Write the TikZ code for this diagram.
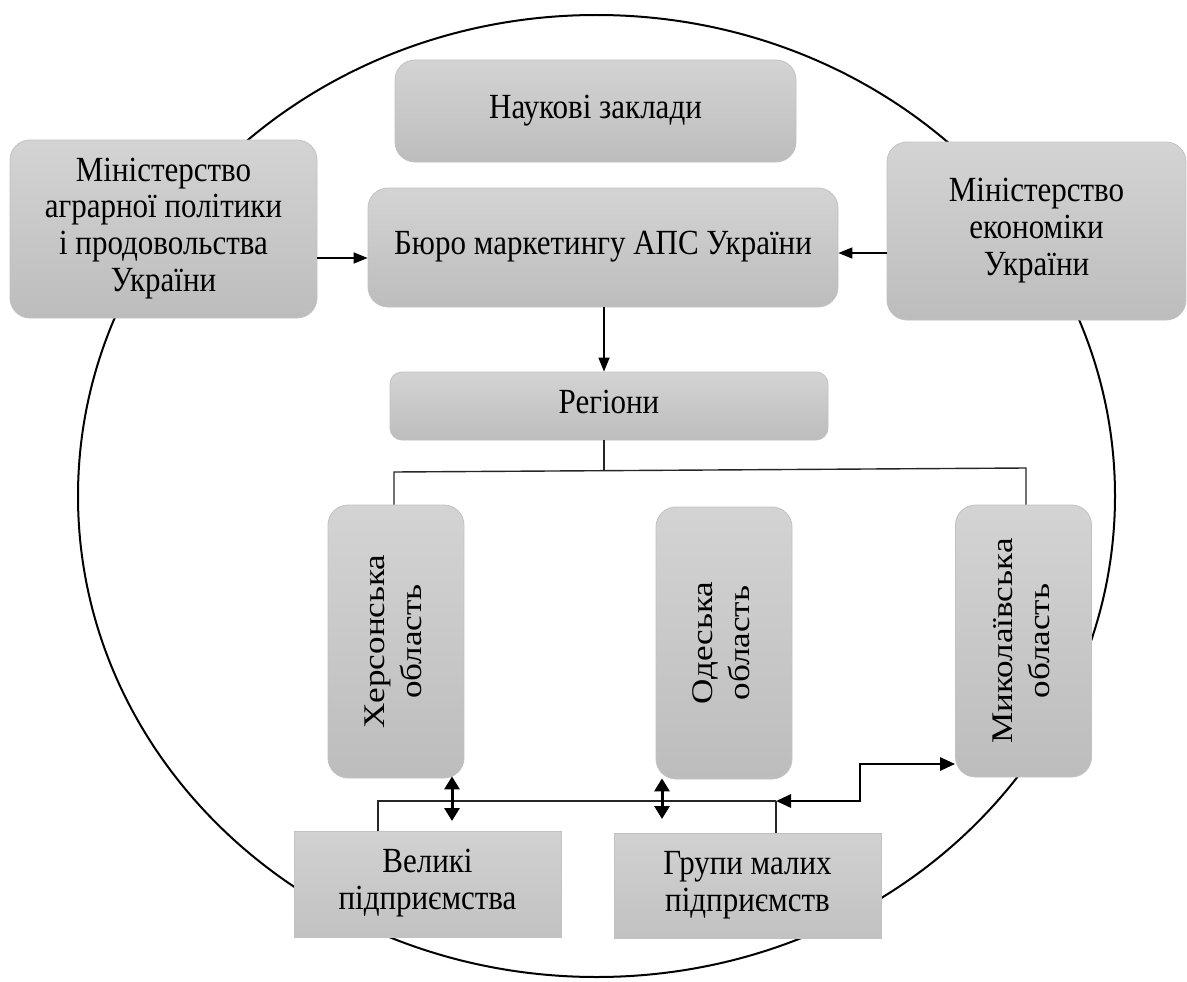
\documentclass[tikz,border=0pt]{standalone}
\usepackage{fontspec}
\setmainfont{Liberation Serif}
\usetikzlibrary{arrows.meta}
\newcommand\htxt[1]{\scalebox{1}[1.14]{\fontsize{31}{32.3}\selectfont\begin{tabular}{@{}c@{}}#1\end{tabular}}}
\newcommand\rtxt[1]{\rotatebox{90}{\scalebox{1.17}[1]{\fontsize{30}{37}\selectfont\begin{tabular}{@{}c@{}}#1\end{tabular}}}}
\begin{document}
\begin{tikzpicture}[x=1pt,y=-1pt,
  txt/.style={align=center, inner sep=0pt, text=black},
  box/.style={txt, draw=black!24, line width=0.8pt, rounded corners=20pt, top color=black!17, bottom color=black!26},
  smallbox/.style={box, rounded corners=12pt},
  sqbox/.style={txt, draw=black!24, line width=0.8pt, top color=black!18, bottom color=black!24},
  conn/.style={line width=1.4pt, draw=black!85},
  arr/.style={line width=1.6pt, draw=black, -{Triangle[length=14pt,width=11pt]}},
  dbl/.style={line width=3pt, draw=black, {Triangle[length=13pt,width=15pt]}-{Triangle[length=13pt,width=15pt]}},
  thk/.style={line width=2.8pt, draw=black, {Triangle[length=15pt,width=13pt]}-{Triangle[length=15pt,width=13pt]}}
]
\useasboundingbox (0,0) rectangle (1187,982);
\fill[white] (0,0) rectangle (1187,982);
% outer circle
\draw[line width=2pt] (596.5,496) ellipse [x radius=518.5, y radius=481];

% top boxes
\node[box, minimum width=401pt, minimum height=102pt] (nauk) at (595.5,111) {\htxt{Наукові заклади}};
\node[box, minimum width=307pt, minimum height=178pt] (minagr) at (163.5,229) {\htxt{Міністерство\\аграрної політики\\і продовольства\\України}};
\node[box, minimum width=470pt, minimum height=119pt] (byuro) at (603,247.5) {\htxt{Бюро маркетингу АПС України}};
\node[box, minimum width=299pt, minimum height=178pt] (minek) at (1036.5,231) {\htxt{Міністерство\\економіки\\України}};
\node[smallbox, minimum width=438pt, minimum height=68pt] (reg) at (609,406) {\htxt{Регіони}};

% regions
\node[box, minimum width=136pt, minimum height=273pt] (kher) at (396,641.5) {\rtxt{Херсонська\\область}};
\node[box, minimum width=136pt, minimum height=272pt] (odesa) at (724,643) {\rtxt{Одеська\\область}};
\node[box, minimum width=136pt, minimum height=272pt] (myk) at (1023.5,641) {\rtxt{Миколаївська\\область}};

% enterprises
\node[sqbox, minimum width=267pt, minimum height=106pt] (velyki) at (427.5,884) {\htxt{Великі\\підприємства}};
\node[sqbox, minimum width=267pt, minimum height=105pt] (grupy) at (747.5,885.5) {\htxt{Групи малих\\підприємств}};

% coordinates
\coordinate (ya) at (0,258);
\coordinate (yb) at (0,253);
\coordinate (xr) at (604,0);
\coordinate (t) at (604,471);
\coordinate (tl) at (394,472);
\coordinate (tr) at (1026,468);
\coordinate (xl) at (378,0);
\coordinate (j) at (776,801);
\coordinate (b1) at (860,801);
\coordinate (b2) at (860,764);
\coordinate (dk) at (452,821);
\coordinate (dod) at (662,819);

% arrows at top
\draw[arr] (minagr.east |- ya) -- (byuro.west |- ya);
\draw[arr] (minek.west |- yb) -- (byuro.east |- yb);
\draw[arr] (byuro.south -| xr) -- (reg.north -| xr);

% tree
\draw[conn] (reg.south -| t) -- (t);
\draw[conn] (kher.north -| tl) -- (tl) -- (tr) -- (myk.north -| tr);

% bottom connections
\draw[conn] (velyki.north -| xl) |- (j);
\draw[conn] (grupy.north -| j) -- (j);
\draw[thk] (j) -- (b1) -- (b2) -- (myk.west |- b2);
\draw[dbl] ([yshift=2pt]kher.south -| dk) -- (dk);
\draw[dbl] ([yshift=1pt]odesa.south -| dod) -- (dod);
\end{tikzpicture}
\end{document}
